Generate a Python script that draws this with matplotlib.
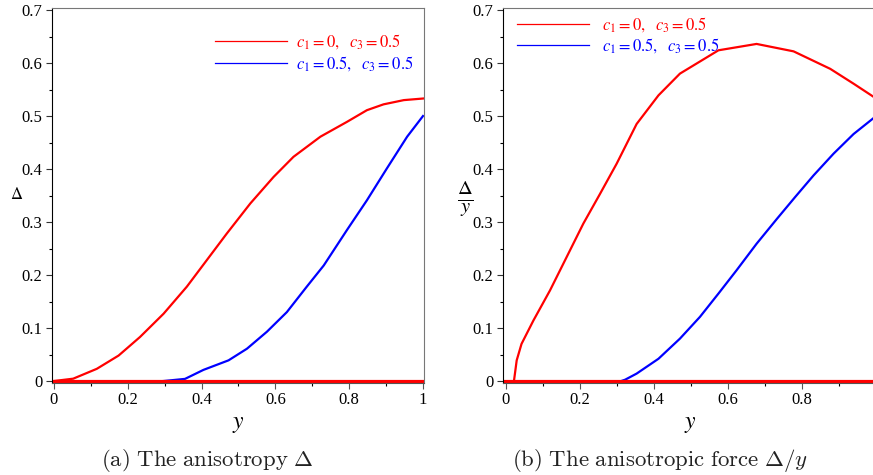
import numpy as np
import matplotlib

matplotlib.use("Agg")
import matplotlib.pyplot as plt
from matplotlib.lines import Line2D
from matplotlib.ticker import MultipleLocator, FixedLocator

plt.rcParams["font.family"] = ["Liberation Serif", "DejaVu Serif"]
plt.rcParams["mathtext.fontset"] = "stix"

# (a) anisotropy Delta vs y
red_a_y = [0.0, 0.052, 0.116, 0.175, 0.233, 0.297, 0.36, 0.414, 0.468, 0.532,
           0.595, 0.649, 0.722, 0.794, 0.848, 0.893, 0.948, 1.0]
red_a_v = [0.0, 0.0044, 0.023, 0.048, 0.083, 0.127, 0.178, 0.228, 0.278, 0.335,
           0.385, 0.423, 0.461, 0.489, 0.511, 0.522, 0.530, 0.533]
blue_a_y = [0.238, 0.297, 0.355, 0.405, 0.473, 0.523, 0.577, 0.631, 0.685, 0.731,
            0.794, 0.848, 0.902, 0.957, 1.0]
blue_a_v = [-0.003, 0.0, 0.004, 0.021, 0.039, 0.061, 0.093, 0.130, 0.178, 0.218,
            0.285, 0.341, 0.401, 0.461, 0.5]

# (b) anisotropic force Delta/y vs y
red_b_y = [0.0216, 0.029, 0.042, 0.074, 0.119, 0.164, 0.209, 0.254, 0.299, 0.353,
           0.412, 0.470, 0.574, 0.677, 0.777, 0.876, 0.939, 1.0]
red_b_v = [0.0, 0.039, 0.070, 0.114, 0.171, 0.234, 0.297, 0.353, 0.410, 0.485,
           0.539, 0.580, 0.624, 0.636, 0.622, 0.589, 0.561, 0.533]
blue_b_y = [0.299, 0.322, 0.353, 0.412, 0.470, 0.524, 0.574, 0.623, 0.677, 0.732,
            0.781, 0.831, 0.885, 0.939, 1.0]
blue_b_v = [-0.003, 0.0025, 0.014, 0.042, 0.080, 0.121, 0.165, 0.209, 0.259, 0.306,
            0.347, 0.388, 0.429, 0.466, 0.5]

x_ticks_a = [0, 0.2, 0.4, 0.6, 0.8, 1.0]
x_ticks_b = [0, 0.2, 0.4, 0.6, 0.8]

red_label = r"$c_1 = 0,\ \ c_3 = 0.5$"
blue_label = r"$c_1 = 0.5,\ \ c_3 = 0.5$"
RED = "#ff0000"
BLUE = "#0000ff"

W, H = 873, 475
fig = plt.figure(figsize=(W / 100, H / 100), dpi=100)


def px_axes(left, right, top, bottom):
	return fig.add_axes([left / W, 1 - bottom / H, (right - left) / W, (bottom - top) / H])


def fmt(v, p):
	if abs(v) < 1e-9:
		return "0"
	if abs(v - 1) < 1e-9:
		return "1"
	return f"{v:.1f}"


def style_axes(ax, xticks):
	ax.set_ylim(-0.0028, 0.7038)
	ax.yaxis.set_major_locator(MultipleLocator(0.1))
	ax.yaxis.set_minor_locator(MultipleLocator(0.05))
	ax.xaxis.set_major_locator(FixedLocator(xticks))
	ax.xaxis.set_minor_locator(MultipleLocator(0.1))
	ax.tick_params(which="major", direction="out", length=4, width=0.8, labelsize=12, pad=3)
	ax.tick_params(which="minor", direction="out", length=2, width=0.8)
	ax.tick_params(axis="y", colors="#333333", labelcolor="black")
	ax.tick_params(axis="x", colors="#555555", labelcolor="black")
	ax.spines["left"].set_color("black")
	ax.spines["bottom"].set_color("#555555")
	ax.spines["top"].set_color("#777777")
	ax.spines["right"].set_color("#777777")
	ax.yaxis.set_major_formatter(plt.FuncFormatter(fmt))
	ax.xaxis.set_major_formatter(plt.FuncFormatter(fmt))


def add_legend(ax, anchor, pad, spacing):
	handles = [Line2D([], [], color=RED, lw=0.9), Line2D([], [], color=BLUE, lw=0.9)]
	ax.legend(handles, [red_label, blue_label], loc="upper left", bbox_to_anchor=anchor,
			  frameon=False, borderpad=0, borderaxespad=0, handlelength=4.3,
			  handletextpad=pad, labelspacing=spacing, fontsize=12, labelcolor=[RED, BLUE])


# panel (a)
ax1 = px_axes(52, 424, 8, 382.5)
ax1.plot(red_a_y, red_a_v, color=RED, lw=1.6)
ax1.plot(blue_a_y, blue_a_v, color=BLUE, lw=1.6)
ax1.axhline(0, color=RED, lw=2.3)
ax1.set_xlim(-0.0054, 1.0027)
style_axes(ax1, x_ticks_a)
add_legend(ax1, (0.438, 0.935), 0.54, 0.18)
ax1.set_xlabel(r"$y$", fontsize=17, labelpad=4)
ax1.set_ylabel(r"$\Delta$", fontsize=12, rotation=0, va="center", ha="center")
ax1.yaxis.set_label_coords(-0.095, 0.5)

# panel (b)
ax2 = px_axes(503, 878, 8, 382.5)
ax2.plot(red_b_y, red_b_v, color=RED, lw=1.6)
ax2.plot(blue_b_y, blue_b_v, color=BLUE, lw=1.6)
ax2.axhline(0, color=RED, lw=2.3)
ax2.set_xlim(-0.008, 1.005)
style_axes(ax2, x_ticks_b)
add_legend(ax2, (0.037, 0.98), 0.78, 0.1)
ax2.set_xlabel(r"$y$", fontsize=17, labelpad=4)
ax2.set_ylabel(r"$\frac{\Delta}{y}$", fontsize=21, rotation=0, va="center", ha="center")
ax2.yaxis.set_label_coords(-0.1, 0.49)

fig.text(207 / W, 1 - 460 / H, r"$\mathrm{(a)\ The\ anisotropy\ }\Delta$", math_fontfamily="cm",
		 fontsize=16.4, ha="center", va="center", color="#222222")
fig.text(660 / W, 1 - 460 / H, r"$\mathrm{(b)\ The\ anisotropic\ force\ }\Delta/y$", math_fontfamily="cm",
		 fontsize=16.4, ha="center", va="center", color="#222222")

fig.savefig("out.png", dpi=100)
